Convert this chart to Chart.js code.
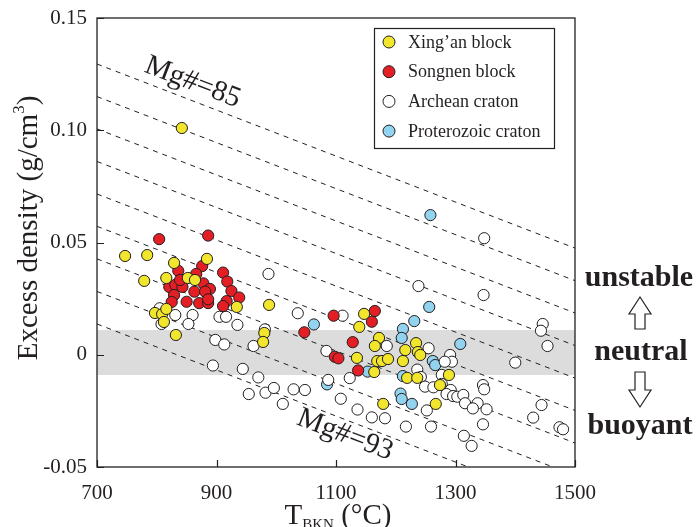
<!DOCTYPE html>
<html>
<head>
<meta charset="utf-8">
<script src="https://cdn.jsdelivr.net/npm/chart.js@4.4.0/dist/chart.umd.min.js"></script>
<style>
  html, body { margin: 0; padding: 0; background: #fff; }
  #wrap { width: 696px; height: 527px; }
</style>
</head>
<body>
<div id="wrap"><canvas id="chart" width="696" height="527"></canvas></div>
<script>
// Xing'an block
const xinganT = [842, 747, 784, 779, 829, 816, 884, 852, 864, 797, 809, 816, 812, 832, 934, 988, 980, 978,
  1147, 1139, 1172, 1165, 1135, 1169, 1177, 1187, 1164, 1179, 1216, 1212, 1234, 1237, 1241, 1219, 1236, 1289, 1274, 1267];
const xinganRho = [0.101, 0.044, 0.0444, 0.0329, 0.0409, 0.0342, 0.0427, 0.0342, 0.0333, 0.0186, 0.0181, 0.0204, 0.0146, 0.0088, 0.0213, 0.0222, 0.0097, 0.0057,
  0.0182, 0.0124, 0.0075, 0.0039, -0.0014, -0.0028, -0.0028, -0.0019, -0.0077, -0.0219, 0.0021, -0.0028, 0.0052, 0.0012, -0.0001, -0.0103, -0.0103, -0.009, -0.0135, -0.0219];

// Songnen block
const songnenT = [804, 886, 876, 836, 866, 911, 918, 821, 831, 843, 839, 878, 889, 829, 863, 881, 925, 938, 825, 850, 871, 886, 917, 911, 886,
  1096, 1047, 1165, 1160, 1128, 1098, 1104, 1137];
const songnenRho = [0.0515, 0.0531, 0.0395, 0.0374, 0.036, 0.0366, 0.0326, 0.0302, 0.0311, 0.0302, 0.0333, 0.0318, 0.0293, 0.0266, 0.0281, 0.0281, 0.0284, 0.0255, 0.0235, 0.0236, 0.023, 0.023, 0.0239, 0.0217, 0.0247,
  0.0174, 0.01, 0.0195, 0.0147, 0.0056, -0.0009, -0.0016, -0.007];

// Archean craton
const archeanT = [987, 1036, 805, 831, 860, 853, 808, 905, 916, 935, 981, 898, 913, 962, 894, 944, 970, 1084, 1111, 954,
  982, 996, 1011, 1029, 1048, 1087, 1123, 1108, 1136, 1160, 1182, 1185, 1217, 1348, 1238, 1347, 1255, 1291, 1294, 1282,
  1236, 1242, 1277, 1249, 1263, 1277, 1292, 1285, 1296, 1303, 1313, 1316, 1337, 1329, 1352, 1346, 1348, 1252, 1259, 1346,
  1314, 1327, 1446, 1443, 1454, 1400, 1444, 1430, 1474, 1480];
const archeanRho = [0.036, 0.0185, 0.0207, 0.0177, 0.0177, 0.0137, 0.0137, 0.0169, 0.0169, 0.0133, 0.0113, 0.0066, 0.0046, 0.0039, -0.0048, -0.0063, -0.0101, 0.0017, 0.0174, -0.0175,
  -0.0169, -0.0148, -0.0219, -0.0154, -0.0157, -0.0112, -0.0104, -0.0196, -0.0244, -0.0279, -0.0283, 0.0039, -0.032, 0.0519, 0.0306, 0.0266, 0.0029, -0.0001, -0.0031, -0.0031,
  -0.0066, -0.0099, -0.009, -0.0142, -0.0145, -0.013, -0.0157, -0.0175, -0.0184, -0.0187, -0.0179, -0.0216, -0.0216, -0.0239, -0.0243, -0.0135, -0.0154, -0.0248, -0.032, -0.031,
  -0.0361, -0.0406, 0.0137, 0.0107, 0.0039, -0.0035, -0.0224, -0.028, -0.0323, -0.0332];

// Proterozoic craton
const proterozoicT = [1258, 1063, 1085, 1256, 1231, 1212, 1210, 1308, 1262, 1266, 1153, 1212, 1208, 1210, 1227];
const proterozoicRho = [0.0622, 0.0135, -0.0132, 0.0213, 0.015, 0.0115, 0.0075, 0.0048, -0.0028, -0.0046, -0.0075, -0.0095, -0.0173, -0.0197, -0.0219];

// Mg# isopleths (density at 700 and 1500 degC)
const mgNumbers = [85, 86, 87, 88, 89, 90, 91, 92, 93];
const mgRhoAt700 = [0.1295, 0.1150, 0.1006, 0.0861, 0.0716, 0.0572, 0.0427, 0.0282, 0.0137];
const mgRhoAt1500 = [0.0475, 0.0330, 0.0186, 0.0041, -0.0104, -0.0248, -0.0393, -0.0538, -0.0683];
const mgLabelT = [860, 1115];
const mgLabelRho = [0.1213, -0.0357];

const xTicks = [700, 900, 1100, 1300, 1500];
const yTicks = [-0.05, 0, 0.05, 0.10, 0.15];
const yTickLabels = ['-0.05', '0', '0.05', '0.10', '0.15'];
const neutralBand = [-0.009, 0.011];

const INK = '#231f20';
const SERIF = '"Liberation Serif", "Times New Roman", serif';

function pts(xs, ys) {
  return xs.map((x, i) => ({ x: x, y: ys[i] }));
}

const groups = [
  { label: 'Xing\u2019an block', t: xinganT, rho: xinganRho, color: '#f1e62c' },
  { label: 'Songnen block', t: songnenT, rho: songnenRho, color: '#e31e24' },
  { label: 'Archean craton', t: archeanT, rho: archeanRho, color: '#ffffff' },
  { label: 'Proterozoic craton', t: proterozoicT, rho: proterozoicRho, color: '#92d3ef' }
];

const pointSets = groups.map((g, i) => ({
  label: g.label,
  data: pts(g.t, g.rho),
  backgroundColor: g.color,
  borderColor: INK,
  borderWidth: 1,
  pointRadius: 5.6,
  showLine: false,
  order: i
}));

const mgLines = mgNumbers.map((m, k) => ({
  label: 'Mg#=' + m,
  data: [{ x: 700, y: mgRhoAt700[k] }, { x: 1500, y: mgRhoAt1500[k] }],
  borderColor: INK,
  borderWidth: 1,
  borderDash: [5, 5],
  pointRadius: 0,
  showLine: true,
  fill: false,
  order: 20
}));

const bandPlugin = {
  id: 'band',
  beforeDatasetsDraw(chart) {
    const { ctx, chartArea: a, scales: { y } } = chart;
    const top = y.getPixelForValue(neutralBand[1]);
    const bot = y.getPixelForValue(neutralBand[0]);
    ctx.save();
    ctx.fillStyle = '#dcdcdc';
    ctx.fillRect(a.left, top, a.right - a.left, bot - top);
    ctx.restore();
  }
};

function drawArrow(ctx, cx, stemA, stemB, tip) {
  ctx.beginPath();
  ctx.moveTo(cx - 5, stemA);
  ctx.lineTo(cx - 5, stemB);
  ctx.lineTo(cx - 11, stemB);
  ctx.lineTo(cx, tip);
  ctx.lineTo(cx + 11, stemB);
  ctx.lineTo(cx + 5, stemB);
  ctx.lineTo(cx + 5, stemA);
  ctx.closePath();
  ctx.fillStyle = '#fff';
  ctx.fill();
  ctx.stroke();
}

const decorPlugin = {
  id: 'decor',
  afterDatasetsDraw(chart) {
    const { ctx, chartArea: a, scales: { x, y } } = chart;
    ctx.save();
    ctx.strokeStyle = INK;
    ctx.fillStyle = INK;

    // frame
    ctx.lineWidth = 1.3;
    ctx.strokeRect(a.left, a.top, a.right - a.left, a.bottom - a.top);

    // inward ticks
    ctx.lineWidth = 1.2;
    ctx.beginPath();
    xTicks.forEach(v => {
      const px = Math.round(x.getPixelForValue(v)) + 0.5;
      ctx.moveTo(px, a.bottom);
      ctx.lineTo(px, a.bottom - 7);
    });
    yTicks.forEach(v => {
      const py = Math.round(y.getPixelForValue(v)) + 0.5;
      ctx.moveTo(a.left, py);
      ctx.lineTo(a.left + 7, py);
    });
    ctx.stroke();

    // Mg# labels along the isopleths
    const ang = Math.atan2(
      y.getPixelForValue(mgRhoAt1500[0]) - y.getPixelForValue(mgRhoAt700[0]),
      x.getPixelForValue(1500) - x.getPixelForValue(700));
    ctx.font = '29px ' + SERIF;
    ctx.textAlign = 'center';
    ctx.textBaseline = 'middle';
    [0, mgNumbers.length - 1].forEach((k, i) => {
      ctx.save();
      ctx.translate(x.getPixelForValue(mgLabelT[i]), y.getPixelForValue(mgLabelRho[i]));
      ctx.rotate(ang);
      ctx.fillText('Mg#=' + mgNumbers[k], 0, 0);
      ctx.restore();
    });

    // legend
    const lx = 374, ly = 28, lw = 180, lh = 120;
    ctx.fillStyle = '#fff';
    ctx.fillRect(lx, ly, lw, lh);
    ctx.lineWidth = 1.2;
    ctx.strokeRect(lx + 0.5, ly + 0.5, lw, lh);
    ctx.font = '18px ' + SERIF;
    ctx.textAlign = 'left';
    ctx.textBaseline = 'middle';
    groups.forEach((g, i) => {
      const ry = ly + 14 + i * 29.7;
      ctx.beginPath();
      ctx.arc(lx + 15, ry, 6, 0, Math.PI * 2);
      ctx.fillStyle = g.color;
      ctx.fill();
      ctx.lineWidth = 1;
      ctx.stroke();
      ctx.fillStyle = INK;
      ctx.fillText(g.label, lx + 34, ry + 1);
    });

    // stability annotation on the right
    ctx.font = 'bold 30px ' + SERIF;
    ctx.textAlign = 'center';
    ctx.textBaseline = 'alphabetic';
    ctx.fillStyle = INK;
    ctx.fillText('unstable', 639, 286);
    ctx.fillText('neutral', 641, 360);
    ctx.fillText('buoyant', 640, 434);
    ctx.lineWidth = 1.2;
    drawArrow(ctx, 640, 329, 314, 297);
    drawArrow(ctx, 640, 372, 390, 407);

    // y axis title
    ctx.fillStyle = INK;
    ctx.save();
    ctx.translate(37, 228);
    ctx.rotate(-Math.PI / 2);
    ctx.textAlign = 'left';
    const p1 = 'Excess density (g/cm', p3 = ')';
    ctx.font = '17px ' + SERIF;
    const w2 = ctx.measureText('3').width;
    ctx.font = '29px ' + SERIF;
    const w1 = ctx.measureText(p1).width, w3 = ctx.measureText(p3).width;
    const sx = -(w1 + w2 + w3) / 2;
    ctx.fillText(p1, sx, 0);
    ctx.font = '17px ' + SERIF;
    ctx.fillText('3', sx + w1, -13);
    ctx.font = '29px ' + SERIF;
    ctx.fillText(p3, sx + w1 + w2, 0);
    ctx.restore();

    // x axis title
    ctx.textAlign = 'left';
    ctx.font = '29px ' + SERIF;
    const tW = ctx.measureText('T').width;
    const rest = ' (\u00B0C)';
    const rW = ctx.measureText(rest).width;
    ctx.font = '15px ' + SERIF;
    const sW = ctx.measureText('BKN').width;
    const tx = 338 - (tW + sW + rW) / 2;
    ctx.font = '29px ' + SERIF;
    ctx.fillText('T', tx, 524);
    ctx.font = '15px ' + SERIF;
    ctx.fillText('BKN', tx + tW, 529);
    ctx.font = '29px ' + SERIF;
    ctx.fillText(rest, tx + tW + sW, 524);

    ctx.restore();
  }
};

new Chart(document.getElementById('chart'), {
  type: 'scatter',
  data: { datasets: pointSets.concat(mgLines) },
  options: {
    responsive: false,
    animation: false,
    layout: { padding: { top: 18, right: 121, left: 0, bottom: 0 } },
    plugins: { legend: { display: false }, tooltip: { enabled: false } },
    scales: {
      x: {
        type: 'linear', min: 700, max: 1500,
        afterBuildTicks: s => { s.ticks = xTicks.map(v => ({ value: v })); },
        afterFit: s => { s.height = 60; s.paddingLeft = 0; s.paddingRight = 0; },
        grid: { display: false, drawTicks: false },
        border: { display: false },
        ticks: { color: INK, padding: 14, font: { family: SERIF, size: 21 }, maxRotation: 0,
          callback: v => String(v) }
      },
      y: {
        type: 'linear', min: -0.05, max: 0.15,
        afterBuildTicks: s => { s.ticks = yTicks.map(v => ({ value: v })); },
        afterFit: s => { s.width = 97; s.paddingTop = 0; s.paddingBottom = 0; },
        grid: { display: false, drawTicks: false },
        border: { display: false },
        ticks: {
          color: INK, padding: 10, font: { family: SERIF, size: 21 },
          callback: v => yTickLabels[yTicks.findIndex(t => Math.abs(t - v) < 1e-9)]
        }
      }
    }
  },
  plugins: [bandPlugin, decorPlugin]
});
</script>
</body>
</html>
